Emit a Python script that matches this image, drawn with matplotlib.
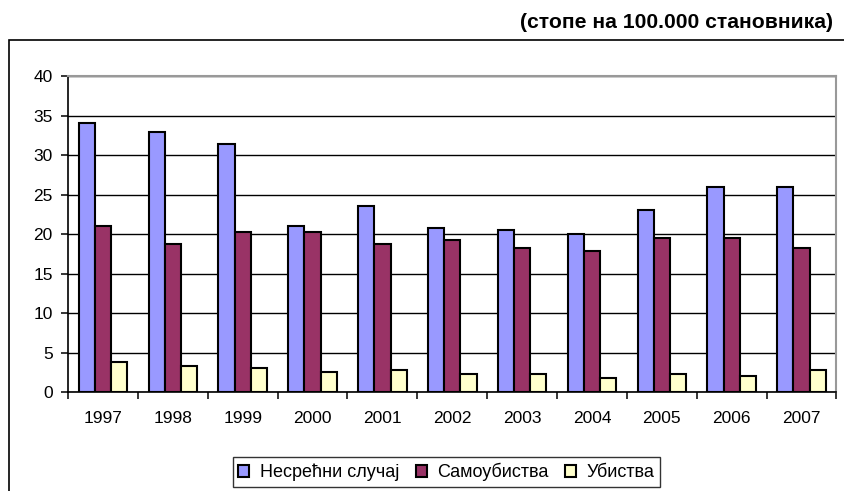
import numpy as np
import matplotlib
matplotlib.use('Agg')
from matplotlib import pyplot as plt
from matplotlib.patches import Rectangle

plt.rcParams['font.family'] = ['Liberation Sans', 'DejaVu Sans']

# Data
years = ['1997', '1998', '1999', '2000', '2001', '2002', '2003', '2004', '2005', '2006', '2007']
nesrecni = [34.1, 32.9, 31.35, 21.0, 23.5, 20.7, 20.45, 20.0, 23.0, 26.0, 26.0]
samoubistva = [21.0, 18.7, 20.25, 20.25, 18.7, 19.2, 18.2, 17.9, 19.45, 19.45, 18.2]
ubistva = [3.8, 3.3, 3.0, 2.5, 2.8, 2.3, 2.3, 1.8, 2.3, 2.0, 2.8]
labels = ['Несрећни случај', 'Самоубиства', 'Убиства']
colors = ['#9999FF', '#993366', '#FFFFCC']

fig = plt.figure(figsize=(8.44, 4.91), dpi=100)
ax = fig.add_axes([0.0806, 0.2016, 0.9105, 0.6436])

# outer chart frame (runs off the right and bottom edges)
fig.patches.append(Rectangle((8.5/844, -0.2), 1.2, 0.2 + 1 - 40/491,
                             transform=fig.transFigure, fill=False,
                             edgecolor='black', linewidth=1.2))

x = np.arange(len(years))
bw = 0.232
series = [nesrecni, samoubistva, ubistva]
for i in range(3):
    ax.bar(x + (i - 1)*bw, series[i], bw, color=colors[i], edgecolor='black',
           linewidth=1.5, label=labels[i], zorder=3)

ax.set_xlim(-0.5, len(years) - 0.5)
ax.set_ylim(0, 40)
ax.set_yticks(np.arange(0, 41, 5))
ax.yaxis.grid(True, color='black', linewidth=1.0, zorder=0)
ax.set_axisbelow(True)

# x ticks at category boundaries, labels at centres
ax.set_xticks(np.arange(-0.5, len(years), 1.0))
ax.set_xticklabels([])
ax.set_xticks(x, minor=True)
ax.set_xticklabels(years, minor=True)
ax.tick_params(axis='x', which='minor', length=0, pad=14, labelsize=12.5)
ax.tick_params(axis='x', which='major', direction='out', length=5, width=1.1)
ax.tick_params(axis='y', direction='out', length=5, width=1.1, labelsize=12.5, pad=6)

ax.spines['top'].set_color('#999999')
ax.spines['right'].set_color('#999999')
ax.spines['top'].set_linewidth(1.5)
ax.spines['right'].set_linewidth(1.5)
ax.spines['left'].set_linewidth(1.2)
ax.spines['bottom'].set_linewidth(1.2)

fig.text(833/844, 1 - 22/491, '(стопе на 100.000 становника)', ha='right', va='center',
         fontsize=15.2, fontweight='bold')

leg = fig.legend(loc='center', bbox_to_anchor=(446.5/844, 1 - 472/491), ncol=3,
                 fontsize=13, frameon=True, fancybox=False, handlelength=0.6,
                 handleheight=0.6, handletextpad=0.6, columnspacing=0.9,
                 borderpad=0.3)
leg.get_frame().set_edgecolor('black')
leg.get_frame().set_linewidth(1.0)

fig.savefig('out.png', dpi=100)
